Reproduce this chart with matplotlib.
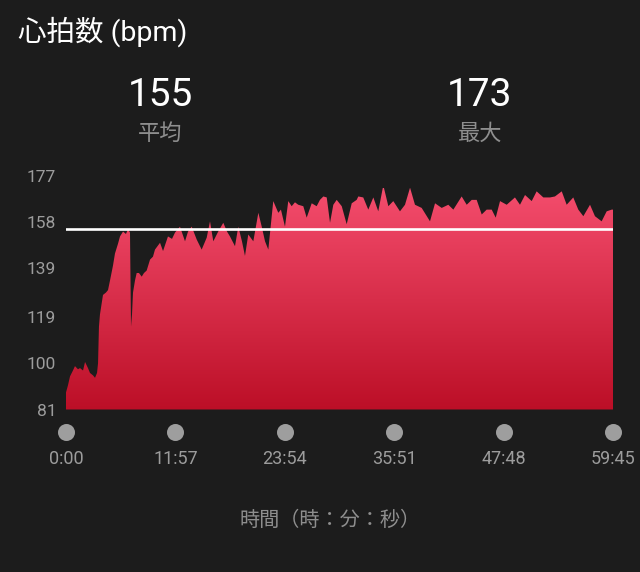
import numpy as np
import matplotlib
matplotlib.use("Agg")
import matplotlib.pyplot as plt
from matplotlib.colors import LinearSegmentedColormap
from matplotlib.transforms import blended_transform_factory

plt.rcParams['font.family'] = ['Roboto', 'Noto Sans CJK JP', 'DejaVu Sans']

# ---- data (time in minutes, heart rate in bpm) ----
time_min = [0, 0.22, 0.44, 0.76, 0.98, 1.31, 1.53, 1.86, 2.08, 2.40, 2.62, 2.95, 3.17, 3.39,
            3.50, 3.60, 3.71, 4.04, 4.37, 4.59, 4.81, 5.13, 5.35, 5.68, 5.90, 6.23, 6.55,
            6.77, 6.99, 7.10, 7.21, 7.32, 7.54, 7.72, 7.97, 8.27, 8.52, 8.81, 9.18, 9.50,
            9.72, 10.27, 10.60, 11.14, 11.58, 11.91, 12.45, 13.00, 13.33, 13.73, 14.28,
            14.82, 15.37, 15.73, 16.09, 16.64, 17.18, 17.59, 17.91, 18.46, 18.82, 19.22,
            19.55, 19.91, 20.46, 21.01, 21.38, 21.74, 22.10, 22.64, 23.19, 23.48, 23.92,
            24.28, 24.65, 25.01, 25.37, 25.92, 26.29, 26.84, 27.38, 27.74, 28.11, 28.48,
            28.84, 29.20, 29.57, 30.12, 30.66, 31.21, 31.75, 31.93, 32.47, 33.02, 33.57,
            34.11, 34.66, 35.21, 35.75, 36.48, 37.03, 37.58, 38.12, 38.85, 39.76, 40.31,
            41.04, 41.76, 42.31, 43.22, 43.77, 44.32, 44.86, 45.41, 45.95, 46.50, 46.94,
            47.41, 48.14, 49.04, 49.59, 50.14, 50.87, 51.41, 52.14, 52.87, 53.41, 54.15,
            54.69, 55.41, 55.96, 56.51, 57.24, 57.78, 58.51, 59.06, 59.61, 59.75]
bpm = [88, 91, 94.6, 97, 98.8, 97.5, 98, 97, 100.5, 98, 96, 95, 94, 96,
       100, 115, 120, 128, 129, 130, 134, 140, 145, 149, 152, 154, 153,
       155, 153.6, 115, 120, 129, 134, 137, 137, 135.5, 137, 138, 142.5, 143.7,
       146.6, 149.4, 146, 152, 151, 153.6, 156, 150, 154, 156, 150.7,
       146.6, 151.5, 158.2, 150, 154.1, 157.6, 154, 152, 148, 156, 150,
       144, 152.8, 150, 161.7, 156, 150, 146.6, 166.5, 161.7, 163, 156,
       166.5, 164.4, 166, 165, 164.4, 159.7, 165.6, 164.4, 167, 168.4, 168,
       157.6, 165, 167, 164.4, 157, 165.6, 167, 168.4, 168, 163, 168,
       162.3, 173, 164.4, 166.5, 162.3, 165, 172, 165, 163.7, 158.2, 165.6,
       163.7, 165, 163, 168.4, 165, 167, 167, 161, 163, 163, 159.7,
       166.5, 165, 168, 165, 169, 166.5, 170.5, 168, 168, 168.4, 170.5,
       165, 168, 163, 160.3, 165, 160.3, 158.2, 162.3, 163, 163]
avg_bpm = 155
max_bpm = 173
y_ticks = [81, 100, 119, 139, 158, 177]
x_tick_labels = ["0:00", "11:57", "23:54", "35:51", "47:48", "59:45"]
x_tick_pos = [0, 11.95, 23.9, 35.85, 47.8, 59.75]

BG = "#1c1c1c"
fig = plt.figure(figsize=(6.4, 5.72), dpi=100, facecolor=BG)
W, H = 640, 572
ax = fig.add_axes([66 / W, 1 - 409.5 / H, (613 - 66) / W, (409.5 - 175.5) / H], facecolor=BG)

ymin, ymax = 81, 177
xmin, xmax = 0, 59.75

# gradient fill clipped to area
poly = ax.fill_between(time_min, bpm, ymin, color="none", lw=0)
cmap = LinearSegmentedColormap.from_list("hr", ["#bc0f27", "#f44d6d"])
grad = np.linspace(0, 1, 256).reshape(-1, 1)
im = ax.imshow(grad, cmap=cmap, aspect="auto", origin="lower",
               extent=[xmin, xmax, ymin, 172], zorder=1)
path = poly.get_paths()[0]
im.set_clip_path(path, transform=ax.transData)

ax.axhline(avg_bpm, color="white", lw=1.9, zorder=3)

ax.set_xlim(xmin, xmax)
ax.set_ylim(ymin, ymax)
for s in ax.spines.values():
    s.set_visible(False)

ax.set_yticks(y_ticks)
ax.set_yticklabels([str(v) for v in y_ticks])
ax.tick_params(axis="y", length=0, pad=7, labelsize=12.5, labelcolor="#9c9c9c")
ax.set_xticks(x_tick_pos)
ax.set_xticklabels(x_tick_labels)
ax.tick_params(axis="x", length=0, pad=29, labelsize=13, labelcolor="#9c9c9c")

# grey dots under the tick labels
trans = blended_transform_factory(ax.transData, ax.transAxes)
ax.scatter(x_tick_pos, [-22.5 / 234] * len(x_tick_pos), s=150, color="#9e9e9e",
           transform=trans, clip_on=False, zorder=4, lw=0)

# texts
fig.text(18 / W, 1 - 32 / H, "心拍数 (bpm)", color="white", fontsize=20.5, va="center", ha="left")
fig.text(160 / W, 1 - 95 / H, str(avg_bpm), color="white", fontsize=28, va="center", ha="center")
fig.text(160 / W, 1 - 134 / H, "平均", color="#8e8e8e", fontsize=16, va="center", ha="center")
fig.text(480 / W, 1 - 95 / H, str(max_bpm), color="white", fontsize=28, va="center", ha="center")
fig.text(480 / W, 1 - 134 / H, "最大", color="#8e8e8e", fontsize=16, va="center", ha="center")
fig.text(330 / W, 1 - 520 / H, "時間（時：分：秒）", color="#8e8e8e", fontsize=14.5,
         va="center", ha="center")

fig.savefig("out.png", dpi=100, facecolor=BG)
